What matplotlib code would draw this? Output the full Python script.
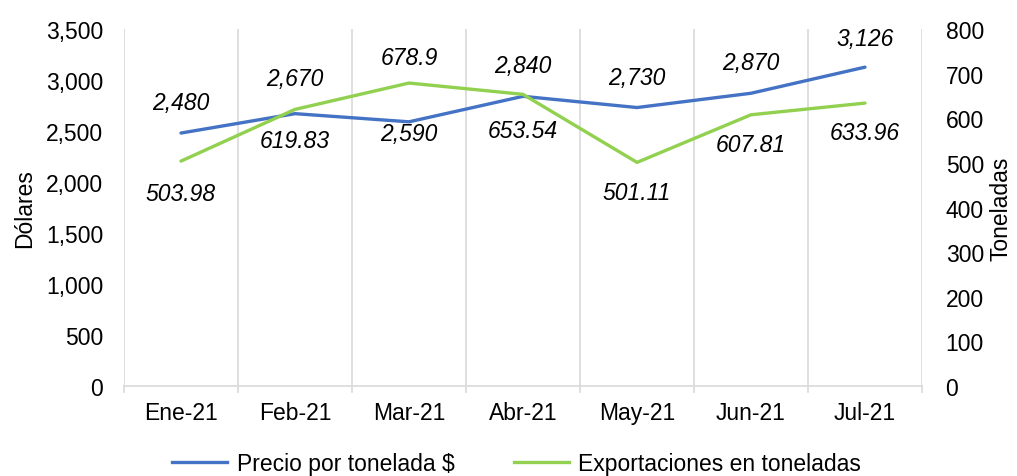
import matplotlib
matplotlib.use("Agg")
import matplotlib.pyplot as plt
from matplotlib.lines import Line2D

plt.rcParams['font.family'] = ['Liberation Sans', 'DejaVu Sans']

months = ["Ene-21", "Feb-21", "Mar-21", "Abr-21", "May-21", "Jun-21", "Jul-21"]
precio = [2480, 2670, 2590, 2840, 2730, 2870, 3126]
export = [503.98, 619.83, 678.9, 653.54, 501.11, 607.81, 633.96]
precio_labels = ["2,480", "2,670", "2,590", "2,840", "2,730", "2,870", "3,126"]
export_labels = ["503.98", "619.83", "678.9", "653.54", "501.11", "607.81", "633.96"]

blue = "#4472C4"
green = "#92D050"
grid = "#D9D9D9"
fs = 16.5

fig = plt.figure(figsize=(10.17, 4.77), dpi=100)
W, H = 1017, 477
left, right, top, bottom = 124, 922, 30, 387
ax = fig.add_axes([left / W, 1 - bottom / H, (right - left) / W, (bottom - top) / H])
ax2 = ax.twinx()

x = list(range(len(months)))
ax.plot(x, precio, color=blue, lw=2.4, solid_capstyle='round', zorder=3)
ax2.plot(x, export, color=green, lw=2.4, solid_capstyle='round', zorder=3)

ax.set_xlim(-0.5, len(months) - 0.5)
ax.set_ylim(0, 3500)
ax2.set_ylim(0, 800)
ax.set_yticks(range(0, 3501, 500))
ax.set_yticklabels([f"{v:,}" for v in range(0, 3501, 500)], fontsize=fs)
ax2.set_yticks(range(0, 801, 100))
ax2.set_yticklabels([str(v) for v in range(0, 801, 100)], fontsize=fs)
ax.set_xticks(x)
ax.set_xticklabels(months, fontsize=fs)
ax.tick_params(axis='x', length=0, pad=11)
ax.tick_params(axis='y', length=0, pad=15)
ax2.tick_params(axis='y', length=0, pad=17)

# vertical gridlines at category boundaries
for b in [i - 0.5 for i in range(len(months) + 1)]:
    ax.axvline(b, color=grid, lw=1.2, zorder=1)
    ax.plot([b, b], [0, -0.018], transform=ax.get_xaxis_transform(), color=grid, lw=1.2, clip_on=False)

for a in (ax, ax2):
    for s in a.spines.values():
        s.set_visible(False)
ax.spines['bottom'].set_visible(True)
ax.spines['bottom'].set_color(grid)
ax.spines['bottom'].set_linewidth(1.2)

ax.set_ylabel("Dólares", fontsize=fs, labelpad=7)
ax2.set_ylabel("Toneladas", fontsize=fs, labelpad=4)

# data labels (pixel offsets)
p_off = [31, 35, -12, 31, 30, 31, 29]
e_off = [-32, -31, 26, -36, -30, -30, -29]
for i in x:
    ax.annotate(precio_labels[i], (i, precio[i]), xytext=(0, p_off[i]), textcoords='offset pixels',
                ha='center', va='center', fontsize=fs, style='italic', zorder=5)
    ax2.annotate(export_labels[i], (i, export[i]), xytext=(0, e_off[i]), textcoords='offset pixels',
                 ha='center', va='center', fontsize=fs, style='italic', zorder=5)

handles = [Line2D([], [], color=blue, lw=2.4), Line2D([], [], color=green, lw=2.4)]
fig.legend(handles, ["Precio por tonelada $", "Exportaciones en toneladas"], loc='center',
           bbox_to_anchor=(0.508, 1 - 465 / H), ncol=2, frameon=False, fontsize=fs,
           handlelength=2.4, columnspacing=2.6, handletextpad=0.4)

fig.savefig("out.png", dpi=100)
